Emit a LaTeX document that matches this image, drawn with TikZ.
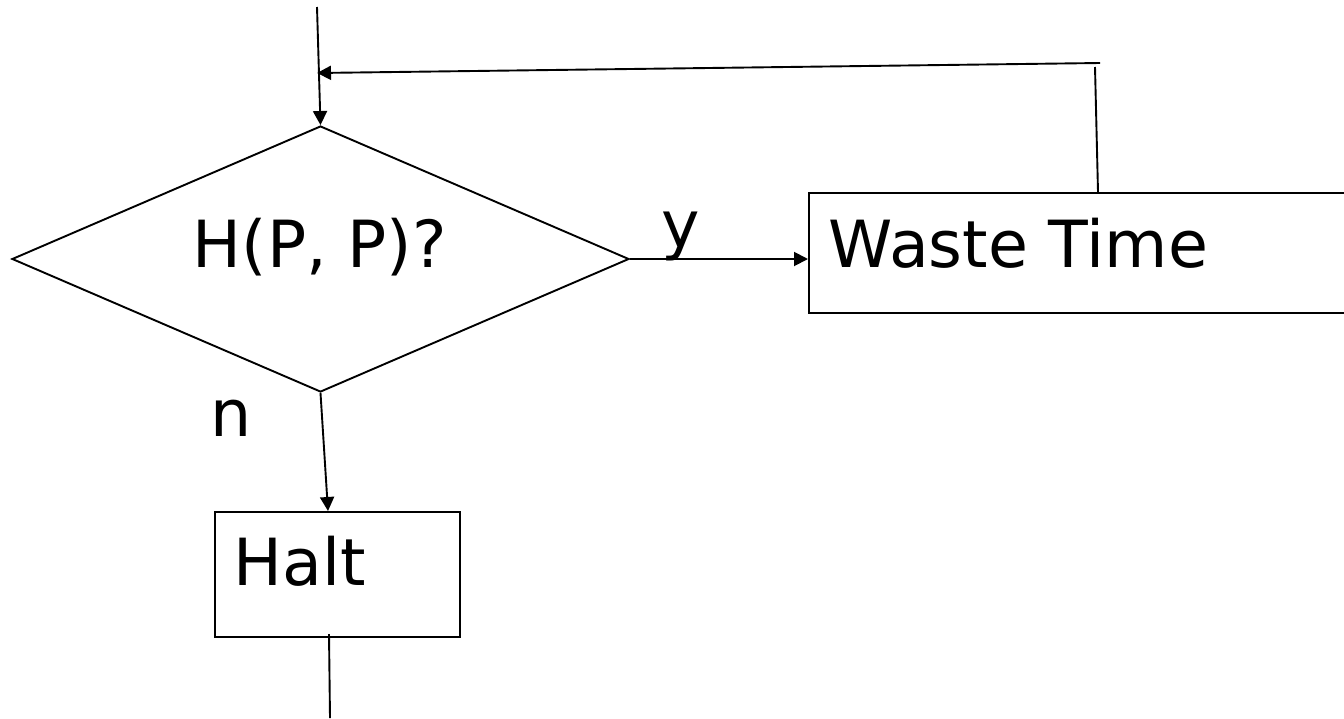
\documentclass[tikz,border=0pt]{standalone}
\usepackage{fontspec}
\setmainfont{DejaVu Sans}
\usetikzlibrary{shapes.geometric,arrows.meta}
\begin{document}
\begin{tikzpicture}[x=1pt,y=-1pt, line width=1.9pt,
  lbl/.style={inner sep=0pt, anchor=base west, font=\fontsize{65}{78}\selectfont},
  arr/.style={-{Triangle[length=14pt,width=14pt]}},
  boxn/.style={draw, rectangle, inner sep=0pt, anchor=north west}]
\useasboundingbox (0,0) rectangle (1344,718);
\clip (0,0) rectangle (1344,718);
% shapes
\node[draw, diamond, inner sep=0pt, minimum width=617pt, minimum height=266pt] (d) at (320.5,259) {};
\node[boxn, minimum width=545pt, minimum height=120pt] (w) at (808,192) {};
\node[boxn, minimum width=245pt, minimum height=125pt] (h) at (214,511) {};
% texts
\node[lbl] (tq) at (192,267) {H(P, P)?};
\node[lbl] (tw) at (828,267) {Waste Time};
\node[lbl] (th) at (233,585) {Halt};
\node[lbl] (tn) at (210,436) {n};
\node[lbl] (ty) at (661,247) {y};
% free ends
\coordinate (top) at (317,7);
\coordinate (wt) at (1098,192);
\coordinate (fbV) at (1095,67);
\coordinate (fbR) at (1100,63);
\coordinate (fbL) at (317,73);
\coordinate (hn) at (328,511);
\coordinate (hb) at (329,634);
\coordinate (bot) at (330,718);
% connectors
\draw[arr] (top) -- (d.north);
\draw (wt) -- (fbV);
\draw[arr] (fbR) -- (fbL);
\draw[arr] (d.east) -- (d.east -| w.west);
\draw[arr] (d.south) -- (hn);
\draw (hb) -- (bot);
\end{tikzpicture}
\end{document}
